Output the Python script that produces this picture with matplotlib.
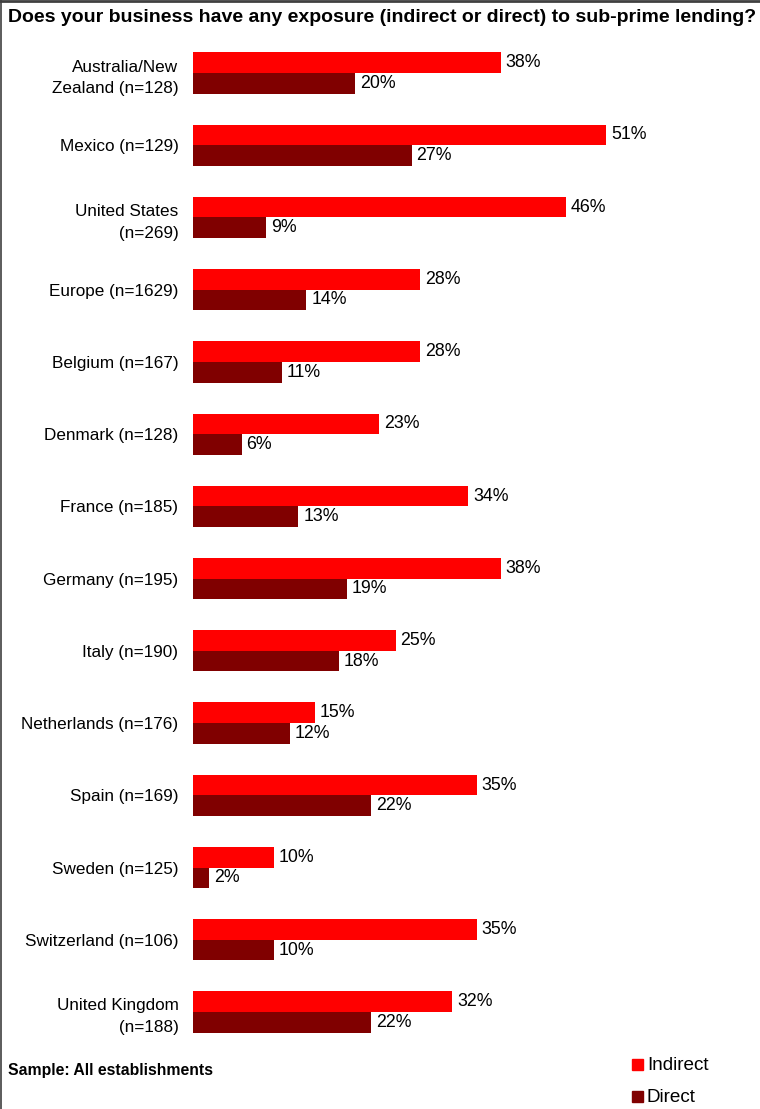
import matplotlib
matplotlib.use("Agg")
import matplotlib.pyplot as plt
from matplotlib.patches import Rectangle
from matplotlib.lines import Line2D

plt.rcParams['font.family'] = ['Liberation Sans', 'DejaVu Sans']

categories = ["Australia/New\nZealand (n=128)", "Mexico (n=129)", "United States\n(n=269)",
              "Europe (n=1629)", "Belgium (n=167)", "Denmark (n=128)", "France (n=185)",
              "Germany (n=195)", "Italy (n=190)", "Netherlands (n=176)", "Spain (n=169)",
              "Sweden (n=125)", "Switzerland (n=106)", "United Kingdom\n(n=188)"]
indirect = [38, 51, 46, 28, 28, 23, 34, 38, 25, 15, 35, 10, 35, 32]
direct = [20, 27, 9, 14, 11, 6, 13, 19, 18, 12, 22, 2, 10, 22]
series_names = ["Indirect", "Direct"]
colors = ["#FF0000", "#800000"]

W, H = 760, 1109
fig = plt.figure(figsize=(W/100, H/100), dpi=100)

top_px, bot_px = 40, 1045
left_px = 193
ax = fig.add_axes([left_px/W, 1 - bot_px/H, (W - left_px)/W, (bot_px - top_px)/H])
n = len(categories)
h = 0.285
ys = list(range(n))
ax.barh([y - h/2 for y in ys], indirect, height=h, color=colors[0], align='center')
ax.barh([y + h/2 for y in ys], direct, height=h, color=colors[1], align='center')
for y, v in zip(ys, indirect):
    ax.annotate(f"{v}%", (v, y - h/2), xytext=(3.5, 0), textcoords='offset points',
                va='center', ha='left', fontsize=12.8)
for y, v in zip(ys, direct):
    ax.annotate(f"{v}%", (v, y + h/2), xytext=(3.5, 0), textcoords='offset points',
                va='center', ha='left', fontsize=12.8)
pad = 0.457
ax.set_ylim(n - 1 + pad, -pad)
ax.set_xlim(0, (W - left_px) / 8.1)
ax.set_yticks(ys)
ax.set_yticklabels(categories, fontsize=12.3, ha='right', multialignment='right')
for t in ax.get_yticklabels():
    t.set_linespacing(1.55)
ax.tick_params(axis='y', length=0, pad=10.5)
ax.set_xticks([])
for s in ax.spines.values():
    s.set_visible(False)

fig.text(8/W, 1 - 17/H, "Does your business have any exposure (indirect or direct) to sub-prime lending?",
         fontsize=14, fontweight='bold', va='center', ha='left')
fig.text(8/W, 1 - 1071/H, "Sample: All establishments", fontsize=11.3, fontweight='bold',
         va='center', ha='left')

# legend
for i, (name, c, ypx) in enumerate(zip(series_names, colors, [1065, 1097])):
    fig.patches.append(Rectangle((632/W, 1 - (ypx + 5)/H), 11/W, 11/H, color=c,
                                 transform=fig.transFigure))
    fig.text(647/W, 1 - ypx/H, name, fontsize=13.6, va='center', ha='left')

# border (top & left)
fig.lines.append(Line2D([0, 1], [1 - 1/H, 1 - 1/H], transform=fig.transFigure, color="#404040", lw=2))
fig.lines.append(Line2D([0.5/W, 0.5/W], [0, 1], transform=fig.transFigure, color="#404040", lw=1.2))

fig.savefig("out.png", dpi=100)
